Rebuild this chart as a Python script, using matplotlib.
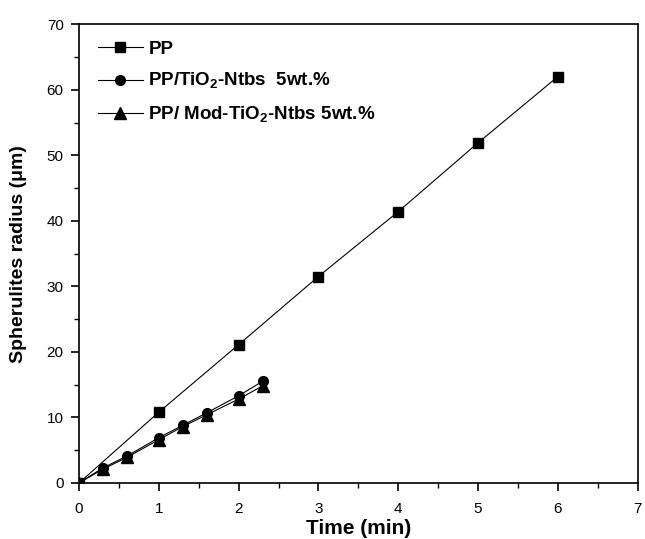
import matplotlib
matplotlib.use("Agg")
import matplotlib.pyplot as plt
from matplotlib.ticker import MultipleLocator

plt.rcParams['font.family'] = ['Liberation Sans', 'DejaVu Sans']

pp_t = [0, 1, 2, 3, 4, 5, 6]
pp_r = [0, 10.8, 21.1, 31.5, 41.4, 51.9, 62.0]

tio2_t = [0, 0.3, 0.6, 1.0, 1.3, 1.6, 2.0, 2.3]
tio2_r = [0, 2.3, 4.1, 6.9, 8.8, 10.7, 13.3, 15.5]

mod_t = [0, 0.3, 0.6, 1.0, 1.3, 1.6, 2.0, 2.3]
mod_r = [0, 2.1, 3.9, 6.6, 8.6, 10.4, 12.8, 14.8]

fig = plt.figure(figsize=(6.45, 5.39), dpi=100)
ax = fig.add_axes([0.1225, 0.104, 0.866, 0.851])

ax.plot(pp_t, pp_r, color='black', lw=0.8, marker='s', ms=7, label='PP')
ax.plot(tio2_t, tio2_r, color='black', lw=0.8, marker='o', ms=7,
        label='PP/TiO$_\\mathregular{2}$-Ntbs  5wt.%')
ax.plot(mod_t, mod_r, color='black', lw=0.8, marker='^', ms=8,
        label='PP/ Mod-TiO$_\\mathregular{2}$-Ntbs 5wt.%')

ax.set_xlim(0, 7)
ax.set_ylim(0, 70)
ax.xaxis.set_major_locator(MultipleLocator(1))
ax.xaxis.set_minor_locator(MultipleLocator(0.5))
ax.yaxis.set_major_locator(MultipleLocator(10))
ax.yaxis.set_minor_locator(MultipleLocator(5))
ax.tick_params(which='major', direction='out', length=6, width=1.2, labelsize=11, pad=5)
ax.tick_params(axis='x', which='major', pad=8)
ax.tick_params(which='minor', direction='out', length=3.5, width=1)
for s in ax.spines.values():
    s.set_linewidth(1.2)

ax.set_xlabel('Time (min)', fontsize=15, fontweight='bold', labelpad=2)
ax.set_ylabel('Spherulites radius (\u03bcm)', fontsize=14, fontweight='bold', labelpad=14)

leg = ax.legend(loc='upper left', frameon=False, fontsize=13.5, handlelength=2.4,
                handletextpad=0.3, borderaxespad=0.0, labelspacing=0.7,
                bbox_to_anchor=(0.02, 0.98))
for t in leg.get_texts():
    t.set_fontweight('bold')

fig.savefig('out.png', dpi=100)
